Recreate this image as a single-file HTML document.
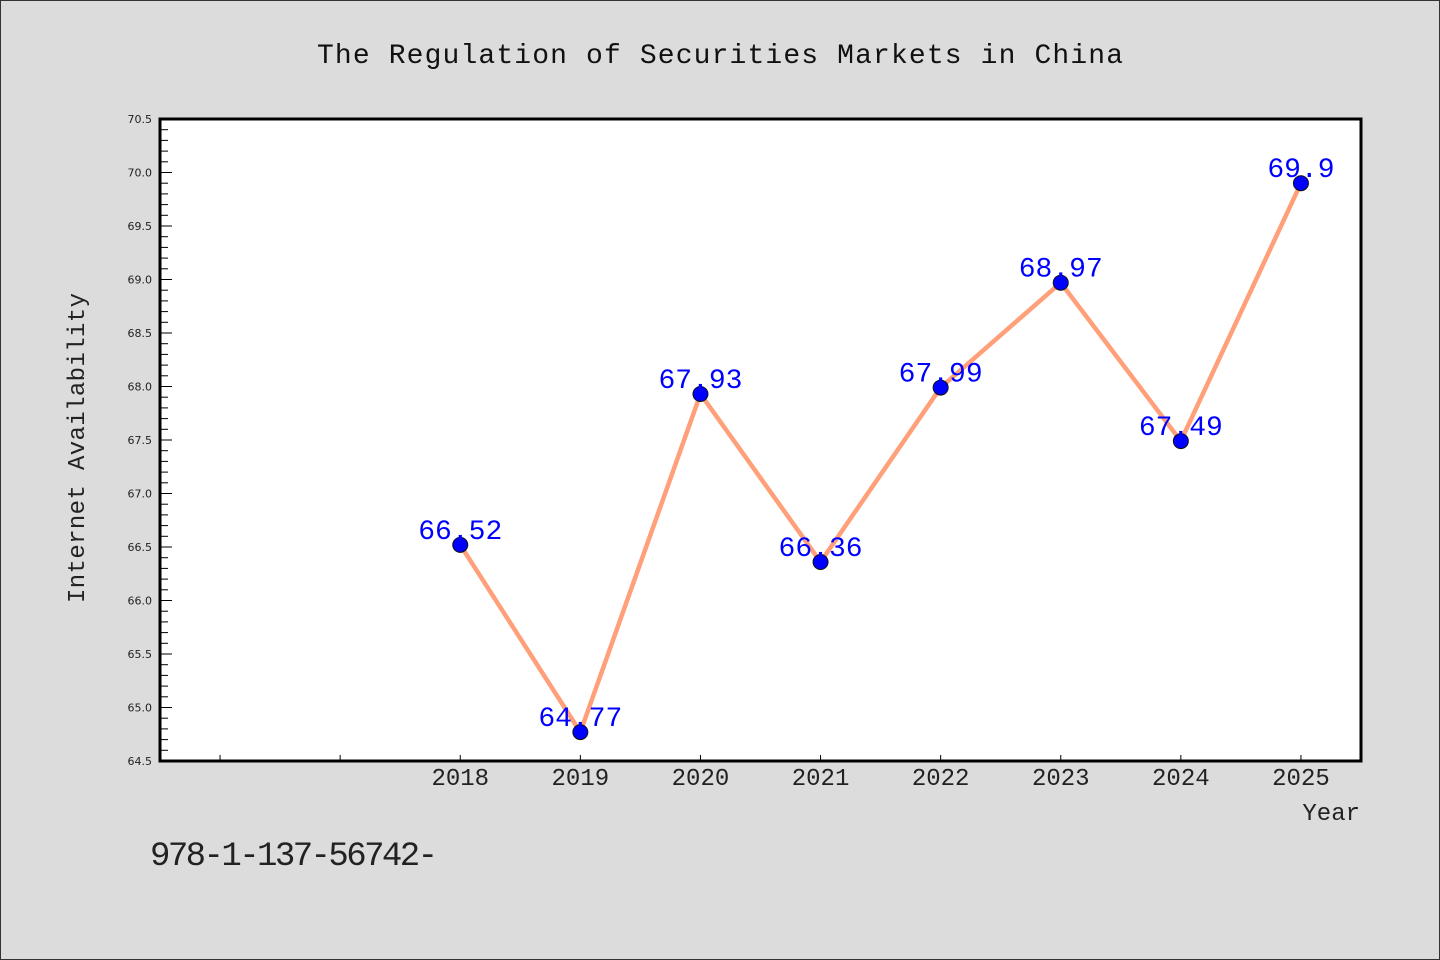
<!DOCTYPE html>
<html><head><meta charset="utf-8"><style>
html,body{margin:0;padding:0;background:#dcdcdc;}
svg{display:block;font-family:"Liberation Mono","WenQuanYi Zen Hei",monospace;}
</style></head><body>
<svg id="chart" width="1440" height="960" viewBox="0 0 1440 960" xmlns="http://www.w3.org/2000/svg">
<rect x="0.5" y="0.5" width="1439" height="959" fill="#dcdcdc" stroke="#333" stroke-width="1"/>
<text x="720" y="63" text-anchor="middle" font-size="28" fill="#111" textLength="806" lengthAdjust="spacing">The Regulation of Securities Markets in China</text>
<rect x="160" y="119" width="1201" height="642" fill="#fff"/>
<g id="axes"></g>
<g id="series"></g>
<rect x="160" y="119" width="1201" height="642" fill="none" stroke="#000" stroke-width="3"/>
<text transform="translate(84,448) rotate(-90)" text-anchor="middle" font-size="24" fill="#222" textLength="310" lengthAdjust="spacing">Internet Availability</text>
<text x="1360" y="820" text-anchor="end" font-size="24" fill="#222">Year</text>
<text x="150" y="865" font-size="34" fill="#222" textLength="288" lengthAdjust="spacing">978-1-137-56742-</text>
</svg>
<script>
const years = [2018, 2019, 2020, 2021, 2022, 2023, 2024, 2025];
const values = [66.52, 64.77, 67.93, 66.36, 67.99, 68.97, 67.49, 69.9];
const valueLabels = ["66.52", "64.77", "67.93", "66.36", "67.99", "68.97", "67.49", "69.9"];
const yTickLabels = ["64.5","65.0","65.5","66.0","66.5","67.0","67.5","68.0","68.5","69.0","69.5","70.0","70.5"];
const xTickYears = [2016, 2017, 2018, 2019, 2020, 2021, 2022, 2023, 2024, 2025];

const NS = "http://www.w3.org/2000/svg";
const X0 = 160, X1 = 1361, Y0 = 761, Y1 = 119;
const xMin = 2015.5, xMax = 2025.5, yMin = 64.5, yMax = 70.5;
function xScale(v){ return X0 + (v - xMin) / (xMax - xMin) * (X1 - X0); }
function yScale(v){ return Y0 - (v - yMin) / (yMax - yMin) * (Y0 - Y1); }
function mk(tag, attrs, parent){ const e = document.createElementNS(NS, tag); for (const k in attrs) e.setAttribute(k, attrs[k]); parent.appendChild(e); return e; }

const axes = document.getElementById('axes');
// y ticks
for (let i = 0; i <= 60; i++) {
  const v = yMin + i * 0.1;
  const y = yScale(v);
  const major = i % 5 === 0;
  const t = mk('line', {x1: X0, x2: X0 + (major ? 12 : 8), y1: y, y2: y, stroke: '#000', 'stroke-width': 1}, axes);
  
  
}
yTickLabels.forEach(function(lbl){
  const y = yScale(parseFloat(lbl));
  const t = mk('text', {x: 152, y: y + 4, 'text-anchor': 'end', 'font-size': 11, fill: '#222', 'font-family': 'DejaVu Sans, sans-serif'}, axes);
  t.textContent = lbl;
  
  
});
xTickYears.forEach(function(yr){
  const x = xScale(yr);
  const t = mk('line', {x1: x, x2: x, y1: Y0, y2: Y0 - 6, stroke: '#000', 'stroke-width': 1}, axes);
  
  
});
years.forEach(function(yr){
  const t = mk('text', {x: xScale(yr), y: 785, 'text-anchor': 'middle', 'font-size': 24, fill: '#222'}, axes);
  t.textContent = String(yr);
  
  
});

const series = document.getElementById('series');
const pts = years.map(function(yr, i){ return xScale(yr) + ',' + yScale(values[i]); }).join(' ');
const line = mk('polyline', {points: pts, fill: 'none', stroke: '#ffa07a', 'stroke-width': 4.5, 'stroke-linejoin': 'round'}, series);


years.forEach(function(yr, i){
  const c = mk('circle', {cx: xScale(yr), cy: yScale(values[i]), r: 7.5, fill: '#0000ff', stroke: '#111', 'stroke-width': 1}, series);
  
  
});
years.forEach(function(yr, i){
  const t = mk('text', {x: xScale(yr), y: yScale(values[i]) - 6, 'text-anchor': 'middle', 'font-size': 28, fill: '#0000ff'}, series);
  t.textContent = valueLabels[i];
  
  
});
</script>
</body></html>
